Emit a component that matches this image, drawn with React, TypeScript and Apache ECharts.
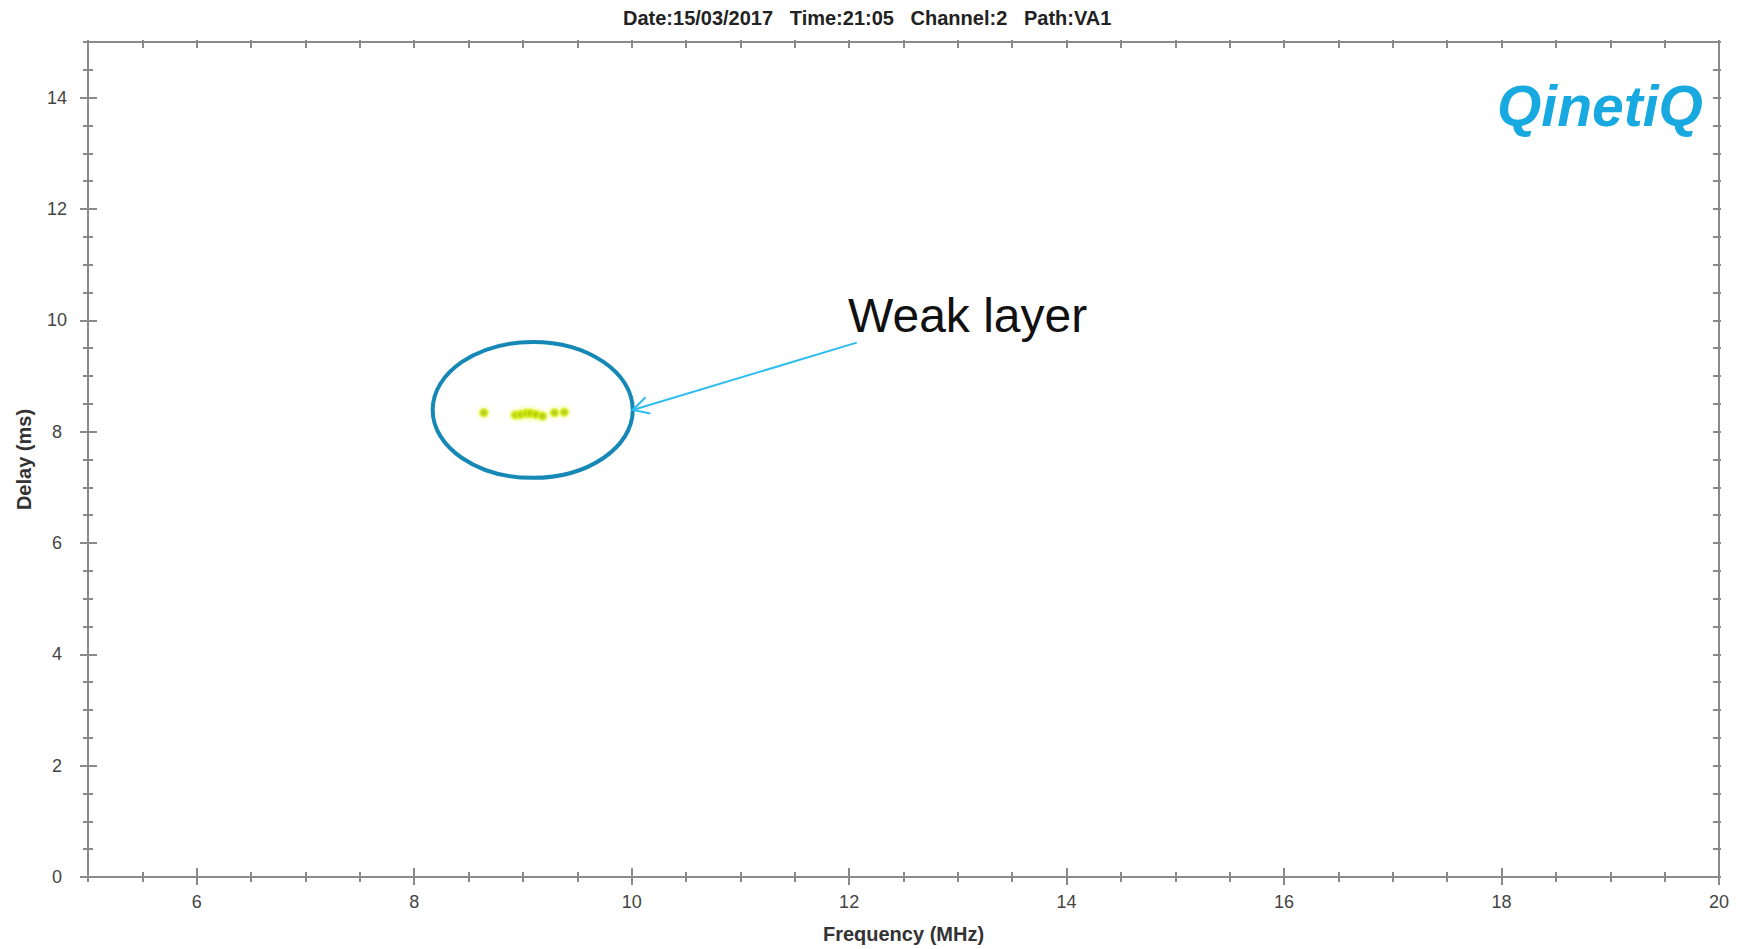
import React, { useEffect, useRef } from "react";
import * as echarts from "echarts";

// Ionogram: echo delay against sounding frequency
const titleText = "Date:15/03/2017   Time:21:05   Channel:2   Path:VA1";

const freqRange = [5, 20];
const delayRange = [0, 15];
const freqTickLabels = [6, 8, 10, 12, 14, 16, 18, 20];
const delayTickLabels = [0, 2, 4, 6, 8, 10, 12, 14];
const minorStep = 0.5;

// Echo returns of the weak layer
const layerFreq = [8.64, 8.93, 8.98, 9.03, 9.07, 9.12, 9.18, 9.29, 9.38];
const layerDelay = [8.34, 8.3, 8.31, 8.33, 8.33, 8.31, 8.28, 8.34, 8.35];

// Annotation ring (data units) and arrow / label anchors
const ringCenter = [9.09, 8.39];
const ringHalfSize = [0.92, 1.22];
const arrowTail = [12.07, 9.6];
const labelAnchor = [11.99, 10.08];
const labelText = "Weak layer";

const AXIS_GREY = "#8a8a8a";
const FONT = "'Liberation Sans', Arial, sans-serif";

function stepsBetween(a: number, b: number, step: number): number[] {
  const out: number[] = [];
  for (let v = a; v <= b + 1e-9; v += step) out.push(Math.round(v * 100) / 100);
  return out;
}

const freqMinor = stepsBetween(freqRange[0], freqRange[1], minorStep);
const delayMinor = stepsBetween(delayRange[0], delayRange[1], minorStep);

function tickOnly(
  kind: "x" | "y",
  position: string,
  values: number[],
  inside: boolean,
  length: number,
  showLine = false
) {
  const range = kind === "x" ? freqRange : delayRange;
  return {
    type: "value",
    position,
    min: range[0],
    max: range[1],
    offset: 0,
    splitLine: { show: false },
    axisLine: { show: showLine, onZero: false, lineStyle: { color: AXIS_GREY, width: 2 } },
    axisTick: {
      show: true,
      inside,
      length,
      customValues: values,
      lineStyle: { color: AXIS_GREY, width: 2 },
    },
    axisLabel: { show: false },
  };
}

export default function App() {
  const ref = useRef<HTMLDivElement>(null);

  useEffect(() => {
    if (!ref.current) return;
    const chart = echarts.init(ref.current, null, { renderer: "svg" });

    const labelStyle = { color: "#444", fontSize: 18, fontFamily: FONT };
    const nameStyle = { color: "#333", fontSize: 20, fontWeight: "bold" as const, fontFamily: FONT };

    chart.setOption({
      animation: false,
      backgroundColor: "#ffffff",
      title: {
        text: titleText,
        left: 618,
        top: 3,
        textStyle: { color: "#222", fontSize: 20, fontWeight: "bold", fontFamily: FONT },
      },
      grid: { left: 88, right: 26, top: 42, bottom: 72 },
      xAxis: [
        {
          type: "value",
          position: "bottom",
          min: freqRange[0],
          max: freqRange[1],
          name: "Frequency (MHz)",
          nameLocation: "middle",
          nameGap: 47,
          nameTextStyle: nameStyle,
          splitLine: { show: false },
          axisLine: { show: true, onZero: false, lineStyle: { color: AXIS_GREY, width: 2 } },
          axisTick: {
            show: true,
            inside: false,
            length: 8,
            customValues: freqTickLabels,
            lineStyle: { color: AXIS_GREY, width: 2 },
          },
          axisLabel: { ...labelStyle, margin: 16, customValues: freqTickLabels },
        },
        tickOnly("x", "bottom", freqTickLabels, true, 9),
        tickOnly("x", "bottom", freqMinor, false, 5),
        tickOnly("x", "bottom", freqMinor, true, 5),
        tickOnly("x", "top", freqMinor, true, 6, true),
        tickOnly("x", "top", freqMinor, false, 2),
      ],
      yAxis: [
        {
          type: "value",
          position: "left",
          min: delayRange[0],
          max: delayRange[1],
          name: "Delay (ms)",
          nameLocation: "middle",
          nameGap: 54,
          nameTextStyle: nameStyle,
          splitLine: { show: false },
          axisLine: { show: true, onZero: false, lineStyle: { color: AXIS_GREY, width: 2 } },
          axisTick: {
            show: true,
            inside: false,
            length: 8,
            customValues: delayTickLabels,
            lineStyle: { color: AXIS_GREY, width: 2 },
          },
          axisLabel: { ...labelStyle, margin: 31, align: "center", customValues: delayTickLabels },
        },
        tickOnly("y", "left", delayTickLabels, true, 9),
        tickOnly("y", "left", delayMinor, false, 5),
        tickOnly("y", "left", delayMinor, true, 5),
        tickOnly("y", "right", delayMinor, true, 6, true),
        tickOnly("y", "right", delayMinor, false, 2),
      ],
      series: [
        {
          type: "scatter",
          xAxisIndex: 0,
          yAxisIndex: 0,
          symbol: "circle",
          symbolSize: 10,
          data: layerFreq.map((f, i) => [f, layerDelay[i]]),
          itemStyle: {
            color: {
              type: "radial",
              x: 0.5,
              y: 0.5,
              r: 0.5,
              colorStops: [
                { offset: 0, color: "#9ab900" },
                { offset: 0.55, color: "#bddb00" },
                { offset: 1, color: "rgba(226,242,40,0.55)" },
              ],
            },
            shadowBlur: 5,
            shadowColor: "rgba(222,242,20,0.75)",
          },
          silent: true,
        },
      ],
    });

    const toPx = (p: number[]) =>
      chart.convertToPixel({ xAxisIndex: 0, yAxisIndex: 0 }, p) as number[];

    const c = toPx(ringCenter);
    const corner = toPx([ringCenter[0] + ringHalfSize[0], ringCenter[1] + ringHalfSize[1]]);
    const rx = corner[0] - c[0];
    const ry = c[1] - corner[1];
    const tip = [c[0] + rx, c[1]];
    const tail = toPx(arrowTail);
    const lbl = toPx(labelAnchor);

    const dx = tail[0] - tip[0];
    const dy = tail[1] - tip[1];
    const len = Math.hypot(dx, dy);
    const ux = dx / len;
    const uy = dy / len;
    const headLen = 18;
    const headAngle = (28 * Math.PI) / 180;
    const arm = (s: number) => [
      tip[0] + headLen * (ux * Math.cos(s * headAngle) - uy * Math.sin(s * headAngle)),
      tip[1] + headLen * (ux * Math.sin(s * headAngle) + uy * Math.cos(s * headAngle)),
    ];

    chart.setOption({
      graphic: [
        {
          type: "ellipse",
          shape: { cx: c[0], cy: c[1], rx, ry },
          style: { fill: "none", stroke: "#1688b5", lineWidth: 4 },
          silent: true,
        },
        {
          type: "line",
          shape: { x1: tail[0], y1: tail[1], x2: tip[0], y2: tip[1] },
          style: { stroke: "#2dbdf0", lineWidth: 2 },
          silent: true,
        },
        {
          type: "polyline",
          shape: { points: [arm(1), tip, arm(-1)] },
          style: { stroke: "#2dbdf0", lineWidth: 2, fill: "none" },
          silent: true,
        },
        {
          type: "text",
          x: lbl[0],
          y: lbl[1],
          style: {
            text: labelText,
            fill: "#111",
            font: `48px ${FONT}`,
            align: "left",
            verticalAlign: "middle",
          },
          silent: true,
        },
        {
          type: "text",
          x: 1497,
          y: 106,
          style: {
            text: "QinetiQ",
            fill: "#19a9e1",
            font: `italic bold 57px ${FONT}`,
            align: "left",
            verticalAlign: "middle",
          },
          silent: true,
        },
      ],
    });

    return () => chart.dispose();
  }, []);

  return (
    <div
      ref={ref}
      style={{ position: "fixed", left: 0, top: 0, width: 1745, height: 949, background: "#fff" }}
    />
  );
}
